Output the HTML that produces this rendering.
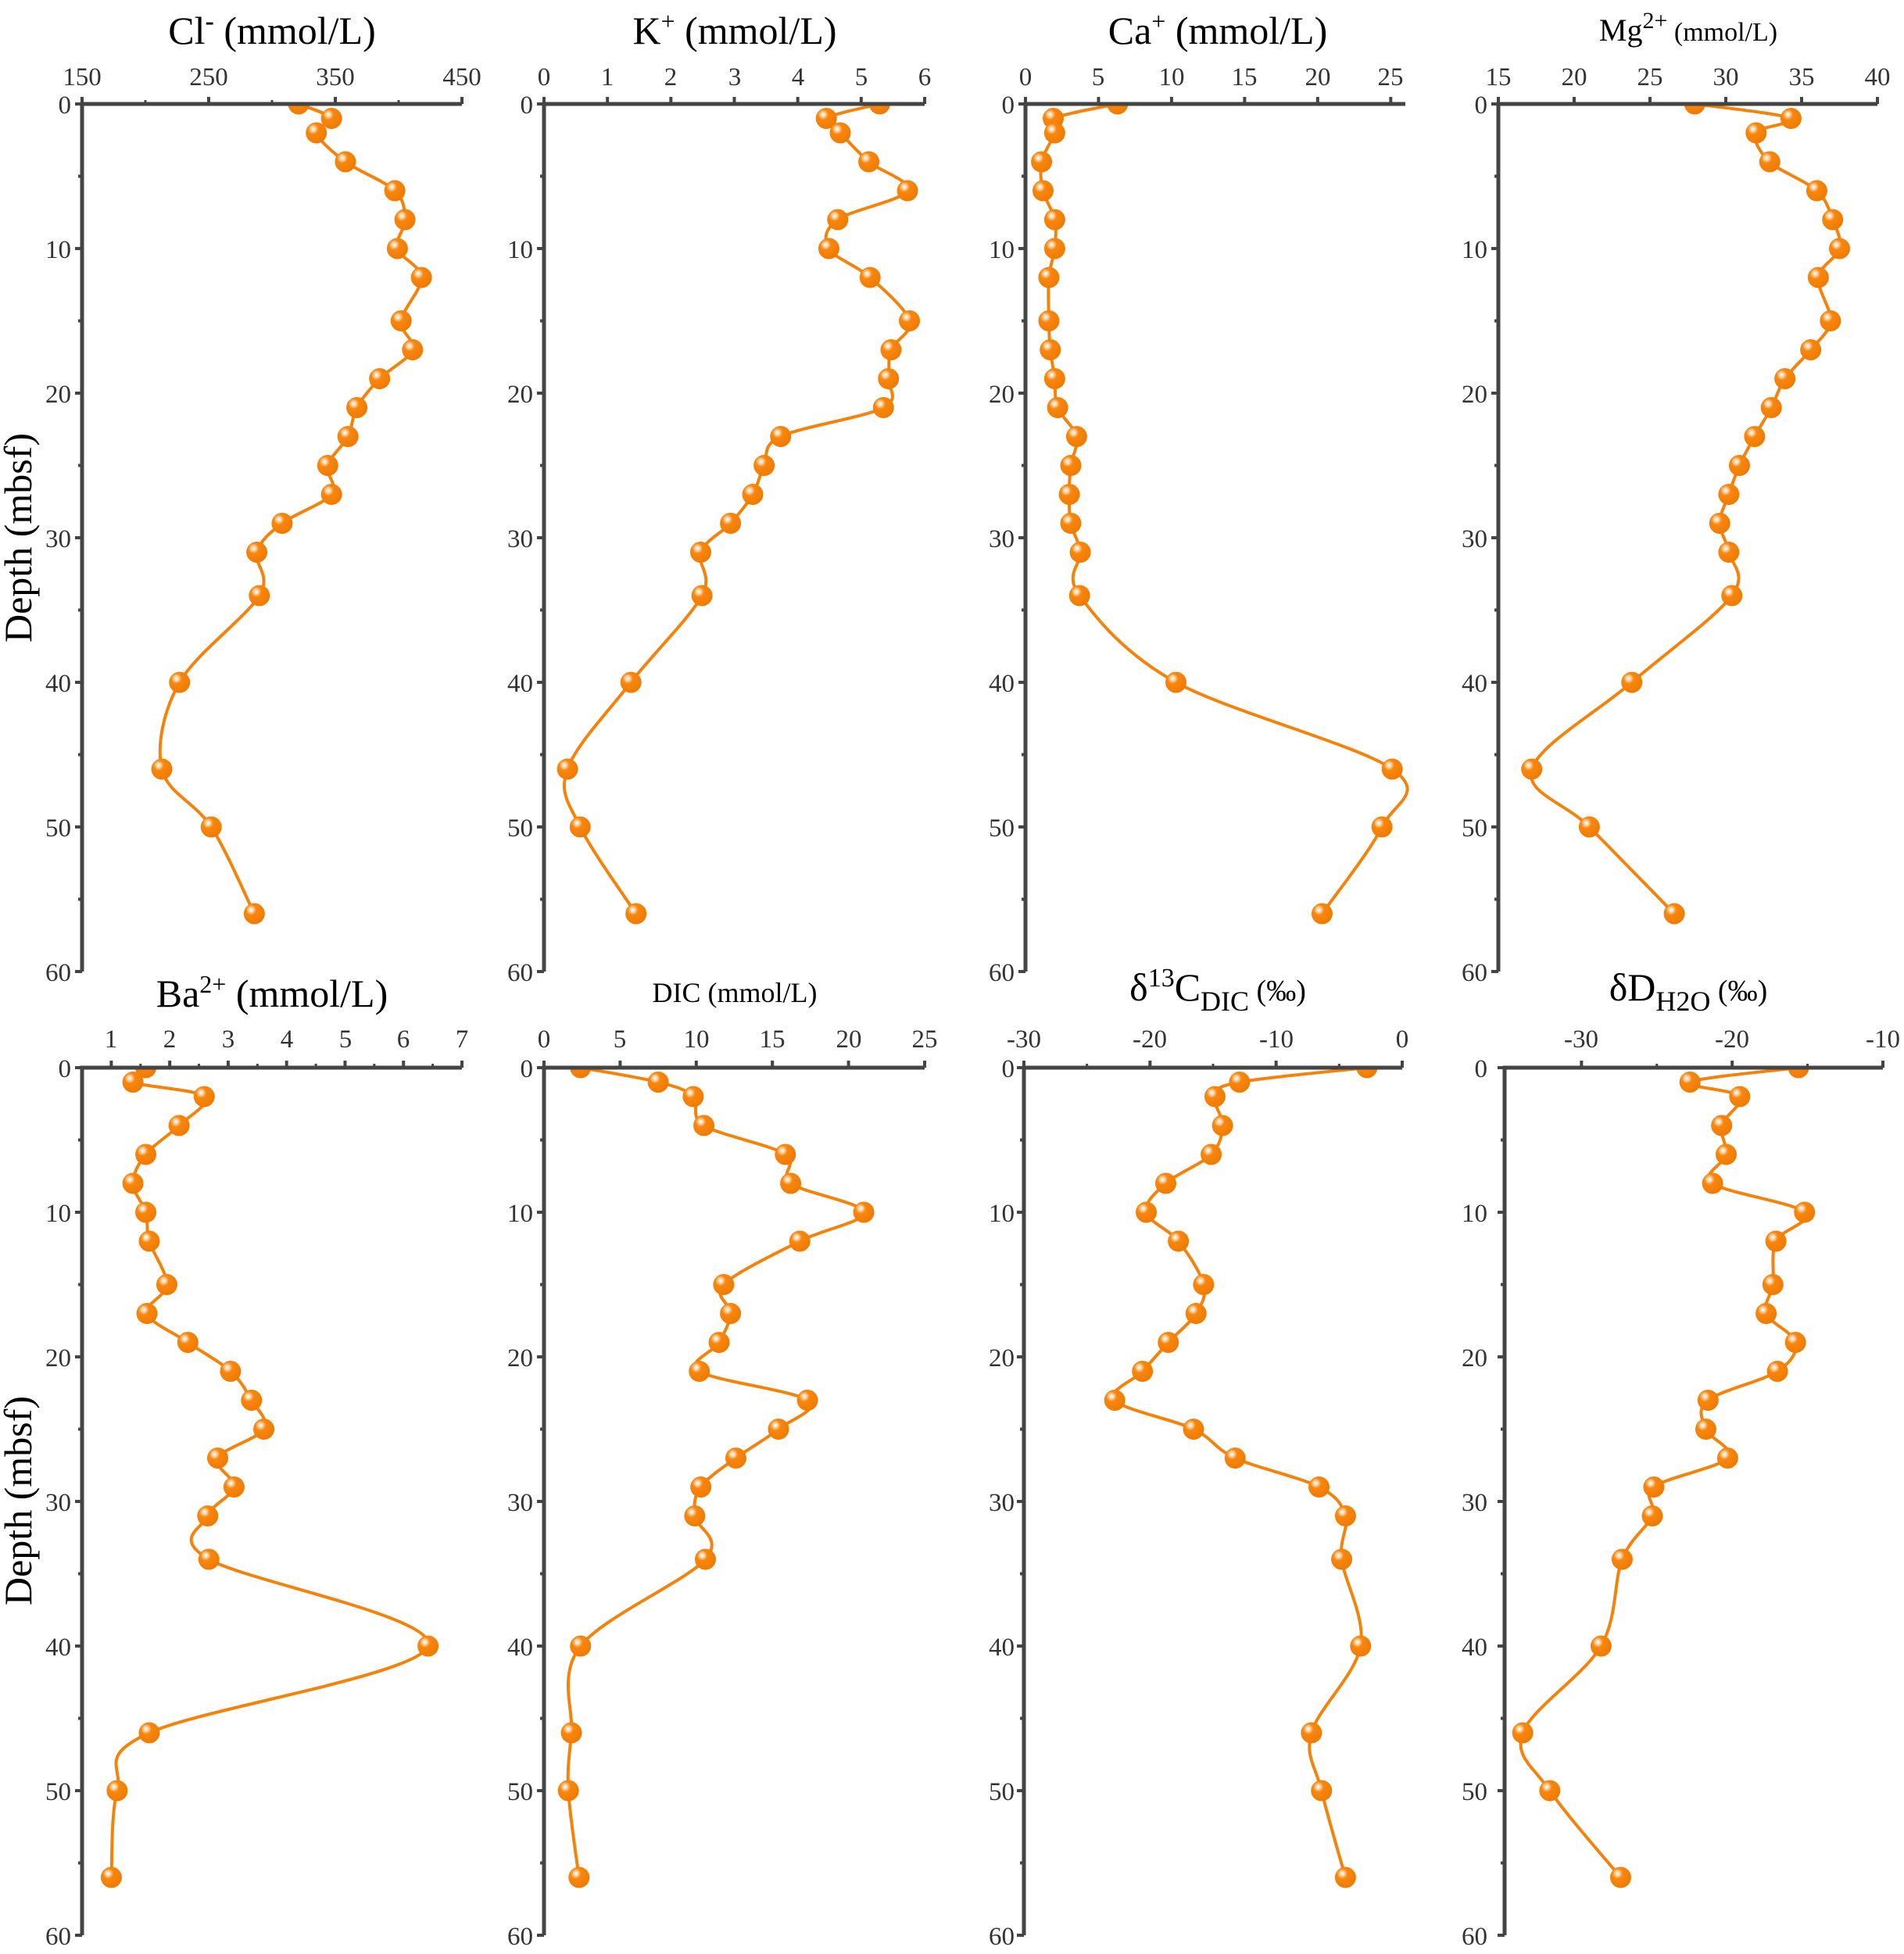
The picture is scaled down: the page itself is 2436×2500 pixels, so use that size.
<!DOCTYPE html>
<html><head><meta charset="utf-8"><style>
html,body{margin:0;padding:0;background:#fff}
svg{display:block}
text{font-family:"Liberation Serif",serif;fill:#333}
.t{fill:#000;font-size:50px}
.tk{font-size:33px;fill:#444}
.yl{font-size:50px;fill:#000}
</style></head><body>
<svg id="s" width="2436" height="2500" viewBox="0 0 2436 2500" xmlns="http://www.w3.org/2000/svg">
<defs>
<radialGradient id="g" cx="0.35" cy="0.32" r="0.7">
<stop offset="0" stop-color="#fff"/>
<stop offset="0.12" stop-color="#fde0bf"/>
<stop offset="0.35" stop-color="#f8870f"/>
<stop offset="1" stop-color="#f07a00"/>
</radialGradient>
</defs>
<g id="plots"></g>
<text class="t" x="348" y="56" text-anchor="middle">Cl<tspan dy="-18" style="font-size:34px" font-weight="bold">-</tspan><tspan dy="18"> (mmol/L)</tspan></text>
<text class="t" x="940" y="56" text-anchor="middle">K<tspan dy="-18" style="font-size:32px">+</tspan><tspan dy="18"> (mmol/L)</tspan></text>
<text class="t" x="1558" y="56" text-anchor="middle">Ca<tspan dy="-18" style="font-size:32px">+</tspan><tspan dy="18"> (mmol/L)</tspan></text>
<text class="t" x="2160" y="52" text-anchor="middle" style="font-size:40px">Mg<tspan dy="-16" style="font-size:30px">2+</tspan><tspan dy="16" style="font-size:34px"> (mmol/L)</tspan></text>
<text class="t" x="348" y="1288" text-anchor="middle">Ba<tspan dy="-18" style="font-size:32px">2+</tspan><tspan dy="18"> (mmol/L)</tspan></text>
<text class="t" x="940" y="1282" text-anchor="middle" style="font-size:36px">DIC (mmol/L)</text>
<text class="t" x="1558" y="1280" text-anchor="middle">δ<tspan dy="-18" style="font-size:34px">13</tspan><tspan dy="18">C</tspan><tspan dy="13" style="font-size:36px">DIC</tspan><tspan dy="-13" style="font-size:38px"> (‰)</tspan></text>
<text class="t" x="2160" y="1280" text-anchor="middle">δD<tspan dy="13" style="font-size:36px">H2O</tspan><tspan dy="-13" style="font-size:38px"> (‰)</tspan></text>
<text class="yl" transform="translate(40,688) rotate(-90)" text-anchor="middle">Depth (mbsf)</text>
<text class="yl" transform="translate(40,1920) rotate(-90)" text-anchor="middle">Depth (mbsf)</text>
<g class="tk" text-anchor="middle">
<text x="105" y="109">150</text><text x="267" y="109">250</text><text x="429" y="109">350</text><text x="591" y="109">450</text>
<text x="696" y="109">0</text><text x="777" y="109">1</text><text x="858" y="109">2</text><text x="940" y="109">3</text><text x="1021" y="109">4</text><text x="1102" y="109">5</text><text x="1183" y="109">6</text>
<text x="1312" y="109">0</text><text x="1405" y="109">5</text><text x="1499" y="109">10</text><text x="1592" y="109">15</text><text x="1686" y="109">20</text><text x="1779" y="109">25</text>
<text x="1917" y="109">15</text><text x="2014" y="109">20</text><text x="2111" y="109">25</text><text x="2208" y="109">30</text><text x="2305" y="109">35</text><text x="2402" y="109">40</text>
<text x="142" y="1340">1</text><text x="217" y="1340">2</text><text x="292" y="1340">3</text><text x="367" y="1340">4</text><text x="442" y="1340">5</text><text x="516" y="1340">6</text><text x="591" y="1340">7</text>
<text x="696" y="1340">0</text><text x="793" y="1340">5</text><text x="891" y="1340">10</text><text x="988" y="1340">15</text><text x="1086" y="1340">20</text><text x="1183" y="1340">25</text>
<text x="1310" y="1340">-30</text><text x="1471" y="1340">-20</text><text x="1633" y="1340">-10</text><text x="1794" y="1340">0</text>
<text x="2023" y="1340">-30</text><text x="2216" y="1340">-20</text><text x="2409" y="1340">-10</text>
</g>
<g class="tk" text-anchor="end">
<text x="91" y="145">0</text><text x="91" y="330">10</text><text x="91" y="515">20</text><text x="91" y="700">30</text><text x="91" y="885">40</text><text x="91" y="1070">50</text><text x="91" y="1255">60</text>
<text x="682" y="145">0</text><text x="682" y="330">10</text><text x="682" y="515">20</text><text x="682" y="700">30</text><text x="682" y="885">40</text><text x="682" y="1070">50</text><text x="682" y="1255">60</text>
<text x="1298" y="145">0</text><text x="1298" y="330">10</text><text x="1298" y="515">20</text><text x="1298" y="700">30</text><text x="1298" y="885">40</text><text x="1298" y="1070">50</text><text x="1298" y="1255">60</text>
<text x="1903" y="145">0</text><text x="1903" y="330">10</text><text x="1903" y="515">20</text><text x="1903" y="700">30</text><text x="1903" y="885">40</text><text x="1903" y="1070">50</text><text x="1903" y="1255">60</text>
<text x="91" y="1378">0</text><text x="91" y="1563">10</text><text x="91" y="1748">20</text><text x="91" y="1933">30</text><text x="91" y="2118">40</text><text x="91" y="2303">50</text><text x="91" y="2488">60</text>
<text x="682" y="1378">0</text><text x="682" y="1563">10</text><text x="682" y="1748">20</text><text x="682" y="1933">30</text><text x="682" y="2118">40</text><text x="682" y="2303">50</text><text x="682" y="2488">60</text>
<text x="1298" y="1378">0</text><text x="1298" y="1563">10</text><text x="1298" y="1748">20</text><text x="1298" y="1933">30</text><text x="1298" y="2118">40</text><text x="1298" y="2303">50</text><text x="1298" y="2488">60</text>
<text x="1903" y="1378">0</text><text x="1903" y="1563">10</text><text x="1903" y="1748">20</text><text x="1903" y="1933">30</text><text x="1903" y="2118">40</text><text x="1903" y="2303">50</text><text x="1903" y="2488">60</text>
</g>
</svg>
<script>
var D=[0,1,2,4,6,8,10,12,15,17,19,21,23,25,27,29,31,34,40,46,50,56];
var P=[
{x0:105,x1:591,v0:150,v1:450,y0:133,maj:[150,250,350,450],min:[200,300,400],d:[321,347,335,358,397,405,399,418,402,411,385,367,360,344,347,308,288,290,227,213,252,286]},
{x0:696,x1:1183,v0:0,v1:6,y0:133,maj:[0,1,2,3,4,5,6],min:[],d:[5.29,4.45,4.67,5.12,5.73,4.63,4.49,5.14,5.76,5.47,5.43,5.35,3.73,3.47,3.29,2.94,2.47,2.49,1.37,0.37,0.57,1.45]},
{x0:1312,x1:1798,v0:0,v1:26,y0:133,maj:[0,5,10,15,20,25],min:[],d:[6.3,1.9,2.0,1.1,1.2,2.0,2.0,1.6,1.6,1.7,2.0,2.2,3.5,3.1,3.0,3.1,3.75,3.7,10.3,25.1,24.4,20.3]},
{x0:1917,x1:2402,v0:15,v1:40,y0:133,maj:[15,20,25,30,35,40],min:[],d:[27.95,34.3,32.0,32.9,36.0,37.05,37.5,36.1,36.9,35.6,33.9,33.0,31.9,30.9,30.2,29.6,30.2,30.4,23.8,17.2,21.0,26.6]},
{x0:105,x1:591,v0:0.5,v1:7,y0:1366,maj:[1,2,3,4,5,6,7],min:[1.5,2.5,3.5,4.5,5.5,6.5],d:[1.59,1.37,2.59,2.16,1.59,1.37,1.59,1.65,1.95,1.61,2.31,3.04,3.4,3.61,2.82,3.1,2.65,2.67,6.42,1.65,1.1,1.0]},
{x0:696,x1:1183,v0:0,v1:25,y0:1366,maj:[0,5,10,15,20,25],min:[],d:[2.4,7.5,9.8,10.5,15.85,16.2,21.0,16.8,11.8,12.25,11.5,10.2,17.3,15.4,12.6,10.3,9.9,10.6,2.4,1.8,1.6,2.3]},
{x0:1310,x1:1794,v0:-30,v1:0,y0:1366,maj:[-30,-20,-10,0],min:[-25,-15,-5],d:[-2.8,-12.9,-14.85,-14.25,-15.15,-18.75,-20.3,-17.75,-15.75,-16.35,-18.55,-20.6,-22.8,-16.55,-13.25,-6.6,-4.5,-4.8,-3.3,-7.2,-6.4,-4.5]},
{x0:1925,x1:2409,v0:-35.1,v1:-10,y0:1366,maj:[-30,-20,-10],min:[-25,-15],d:[-15.6,-22.8,-19.5,-20.7,-20.4,-21.3,-15.2,-17.1,-17.3,-17.75,-15.8,-17,-21.6,-21.75,-20.3,-25.2,-25.3,-27.3,-28.7,-33.9,-32.1,-27.4]}
];
var G=document.getElementById("plots"),h="",k=18.5;
P.forEach(function(p,i){
 var X=function(v){return p.x0+(v-p.v0)/(p.v1-p.v0)*(p.x1-p.x0)},Y=function(d){return p.y0+d*k};
 var yb=p.y0+60*k;
 h+='<clipPath id="c'+i+'"><rect x="'+(p.x0)+'" y="'+(p.y0)+'" width="'+(p.x1-p.x0+40)+'" height="'+(60*k+10)+'"/></clipPath>';
 var pts=D.map(function(d,j){return [X(p.d[j]),Y(d)]});
 var s="M"+pts[0][0]+","+pts[0][1];
 for(var j=0;j<pts.length-1;j++){var a=pts[j-1]||pts[j],b=pts[j],c=pts[j+1],e=pts[j+2]||c;
  s+=" C"+(b[0]+(c[0]-a[0])/6)+","+(b[1]+(c[1]-a[1])/6)+" "+(c[0]-(e[0]-b[0])/6)+","+(c[1]-(e[1]-b[1])/6)+" "+c[0]+","+c[1];}
 h+='<g clip-path="url(#c'+i+')"><path d="'+s+'" fill="none" stroke="#f5820a" stroke-width="4"/>';
 pts.forEach(function(q){h+='<circle cx="'+q[0]+'" cy="'+q[1]+'" r="13.5" fill="url(#g)"/>'});
 h+='</g>';
 h+='<path d="M'+p.x0+','+yb+' V'+p.y0+' H'+p.x1+'" fill="none" stroke="#444" stroke-width="5"/>';
 p.maj.forEach(function(v){h+='<line x1="'+X(v)+'" x2="'+X(v)+'" y1="'+p.y0+'" y2="'+(p.y0-9)+'" stroke="#444" stroke-width="4"/>'});
 p.min.forEach(function(v){h+='<line x1="'+X(v)+'" x2="'+X(v)+'" y1="'+p.y0+'" y2="'+(p.y0-5)+'" stroke="#444" stroke-width="3"/>'});
 for(var d=0;d<=60;d+=5){h+='<line x1="'+p.x0+'" x2="'+(p.x0-(d%10?5:9))+'" y1="'+Y(d)+'" y2="'+Y(d)+'" stroke="#444" stroke-width="4"/>'}
});
G.innerHTML=h;
</script>
</body></html>
